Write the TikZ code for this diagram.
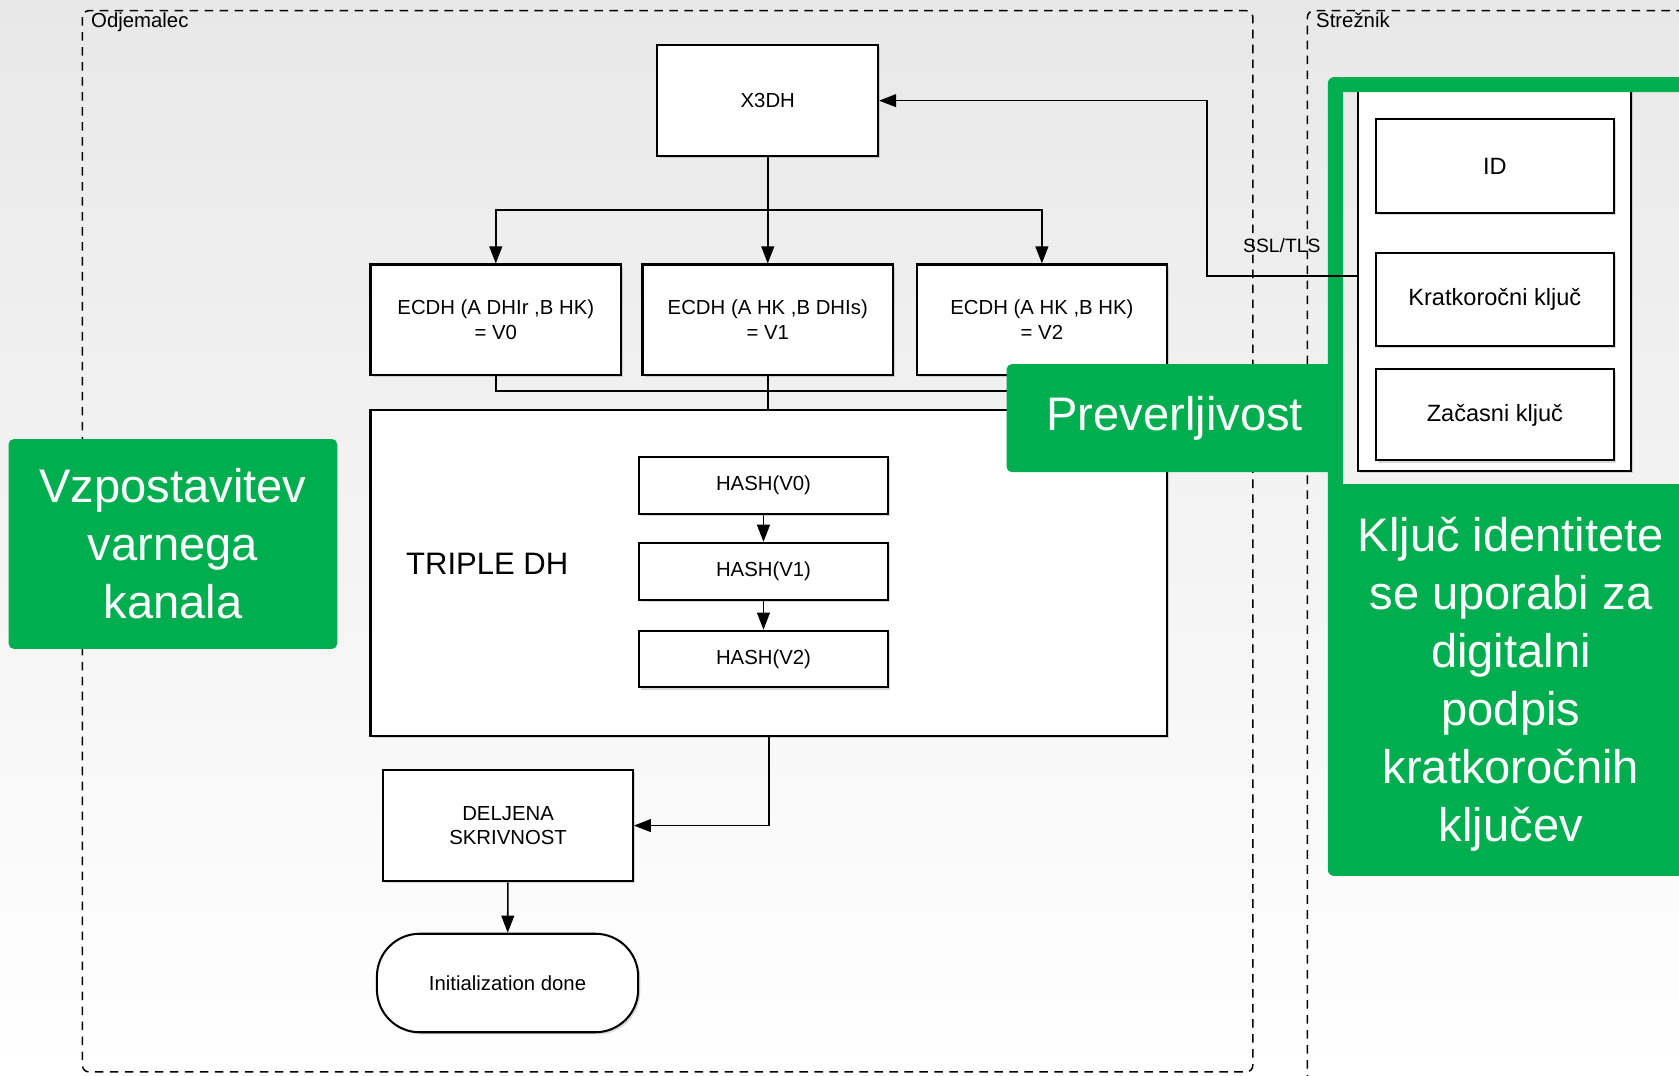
\documentclass[tikz,border=0pt]{standalone}
\usepackage{fontspec}
\setmainfont{Liberation Sans}
\usetikzlibrary{arrows.meta,positioning,calc,shadows}
\definecolor{kgreen}{HTML}{00AD4F}
\tikzset{dhbox/.style={draw=black,line width=1.9pt,fill=white,align=center,font=\fontsize{19}{23}\selectfont,drop shadow={shadow xshift=2pt,shadow yshift=-2pt,opacity=.3}},dharr/.style={-{Triangle[length=16pt,width=12pt]},line width=1.5pt},dhline/.style={line width=1.5pt},zone/.style={dash pattern=on 8pt off 6pt,line width=1.4pt,rounded corners=6pt},zonelabel/.style={anchor=north west,font=\fontsize{19}{22}\selectfont,inner sep=3pt},greennote/.style={fill=kgreen,text=white,rounded corners=5pt,align=center,font=\fontsize{44}{54}\selectfont}}

\begin{document}
\begin{tikzpicture}[x=1pt,y=-1pt]
\useasboundingbox (0,0) rectangle (1568,1004);
\shade[top color=black!9,bottom color=white] (0,0) rectangle (1568,1004);
% zones
\draw[zone] (77,10) rectangle (1170,1001);
\node[zonelabel] (odj) at (82,9) {Odjemalec};
\draw[zone] (1221,1012) -- (1221,10) -- (1590,10);
\node[zonelabel] (str) at (1226,9) {Strežnik};
% client side
\node[dhbox,minimum width=206pt,minimum height=104pt] (x3dh) at (717,94) {X3DH};
\node[dhbox,minimum width=234pt,minimum height=103pt] (ecdhA) at (463,298.5) {ECDH (A DHIr ,B HK)\\= V0};
\node[dhbox,minimum width=234pt,minimum height=103pt] (ecdhB) at (717,298.5) {ECDH (A HK ,B DHIs)\\= V1};
\node[dhbox,minimum width=234pt,minimum height=103pt] (ecdhC) at (973,298.5) {ECDH (A HK ,B HK)\\= V2};
\node[dhbox,minimum width=744pt,minimum height=304pt] (triple) at (718,535) {};
\node[font=\fontsize{29}{34}\selectfont] (tripletxt) at (455,527) {TRIPLE DH};
\node[dhbox,minimum width=233pt,minimum height=53pt] (hashA) at (713,453.5) {HASH(V0)};
\node[dhbox,minimum width=233pt,minimum height=53pt] (hashB) at (713,533.5) {HASH(V1)};
\node[dhbox,minimum width=233pt,minimum height=53pt] (hashC) at (713,615.5) {HASH(V2)};
\node[dhbox,minimum width=233pt,minimum height=104pt] (deljena) at (474.5,771) {DELJENA\\SKRIVNOST};
\node[dhbox,rounded corners=40pt,minimum width=244pt,minimum height=92pt] (init) at (474,918) {Initialization done};
\coordinate (split) at (717,196);
\coordinate (join) at (717,365);
\draw[dharr] (x3dh) -- (ecdhB);
\draw[dharr] (split) -| (ecdhA);
\draw[dharr] (split) -| (ecdhC);
\draw[dhline] (ecdhA.south) |- (join);
\draw[dhline] (ecdhC.south) |- (join);
\draw[dhline] (ecdhB.south) -- (ecdhB.south |- triple.north);
\draw[dharr] (hashA) -- (hashB);
\draw[dharr] (hashB) -- (hashC);
\draw[dharr] (triple.south) |- (deljena);
\draw[dharr] (deljena) -- (init);
% server side
\node[dhbox,minimum width=255pt,minimum height=364pt] (server) at (1395.5,258) {};
\node[dhbox,font=\fontsize{22}{26}\selectfont,minimum width=222pt,minimum height=88pt] (id) at (1396,155) {ID};
\node[dhbox,font=\fontsize{22}{26}\selectfont,minimum width=222pt,minimum height=87pt] (kratko) at (1396,279.5) {Kratkoročni ključ};
\node[dhbox,font=\fontsize{22}{26}\selectfont,minimum width=222pt,minimum height=85pt] (zacasni) at (1396,387.5) {Začasni ključ};
\fill[kgreen,even odd rule] [rounded corners=6pt] (1240,72) rectangle (1600,818) [sharp corners] (1254,86) rectangle (1600,452);
\node[text=white,align=center,font=\fontsize{44}{54}\selectfont] (kljuc) at (1411,639) {Ključ identitete\\se uporabi za\\digitalni\\podpis\\kratkoročnih\\ključev};
\draw[dharr] (server.west) -- ++(-140,0) node[midway,above=21pt,inner sep=0pt,font=\fontsize{18}{20}\selectfont] (ssl) {SSL/TLS} |- (x3dh);
% notes
\node[greennote,minimum width=314pt,minimum height=101pt] (prev) at (1097,390.5) {Preverljivost};
\node[greennote,minimum width=307pt,minimum height=196pt] (kanal) at (161.5,508) {Vzpostavitev\\varnega\\kanala};
\end{tikzpicture}
\end{document}
